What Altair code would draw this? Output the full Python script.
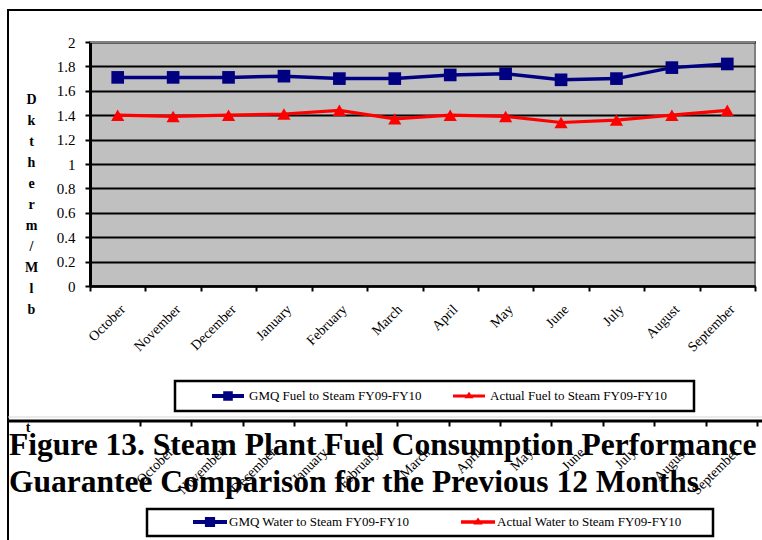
import altair as alt
import pandas as pd

# ---- data -------------------------------------------------------------
months = ["October", "November", "December", "January", "February", "March",
          "April", "May", "June", "July", "August", "September"]
gmq_fuel = [1.71, 1.71, 1.71, 1.72, 1.70, 1.70, 1.73, 1.74, 1.69, 1.70, 1.79, 1.82]
actual_fuel = [1.40, 1.39, 1.40, 1.41, 1.44, 1.37, 1.40, 1.39, 1.34, 1.36, 1.40, 1.44]

fuel_series = ["GMQ Fuel to Steam FY09-FY10", "Actual Fuel to Steam FY09-FY10"]
water_series = ["GMQ Water  to Steam  FY09-FY10", "Actual Water  to Steam FY09-FY10"]
series_colors = ["#000080", "#FF0000"]

y_ticks = [0, 0.2, 0.4, 0.6, 0.8, 1, 1.2, 1.4, 1.6, 1.8, 2]
y_title_letters = ["D", "k", "t", "h", "e", "r", "m", "/", "M", "l", "b"]
caption_lines = ["Figure 13. Steam Plant Fuel Consumption Performance",
                 "Guarantee Comparison for the Previous 12 Months"]

SERIF = "Liberation Serif"

# ---- layout (page pixels; plot area origin at X0, Y0) -----------------
X0, Y0 = 90, 42
W, H = 665, 244


def px(x):
    return x - X0


def py(y):
    return y - Y0


df = pd.DataFrame({
    "month": months * 2,
    "series": [fuel_series[0]] * len(months) + [fuel_series[1]] * len(months),
    "value": gmq_fuel + actual_fuel,
})

one = pd.DataFrame({"k": [0]})

color_fuel = alt.Scale(domain=fuel_series, range=series_colors)

x_main = alt.X(
    "month:N", sort=months, bandPosition=0.5,
    scale=alt.Scale(type="band", paddingInner=0, paddingOuter=0),
    axis=alt.Axis(title=None, grid=False, tickBand="extent",
                  labelAngle=-45, labelAlign="right", labelBaseline="top",
                  labelFont=SERIF, labelFontSize=14, labelColor="black",
                  labelPadding=11, labelOverlap=False, labelBound=False,
                  domainColor="black", domainWidth=2.5,
                  tickColor="black", tickWidth=2, tickSize=5),
)
y_main = alt.Y(
    "value:Q",
    scale=alt.Scale(domain=[0, 2], nice=False, zero=True),
    axis=alt.Axis(values=y_ticks, format="~g",
                  title=y_title_letters, titleAngle=0, titleFont=SERIF,
                  titleFontSize=14, titleFontWeight="bold", titleColor="black",
                  titleLineHeight=21, titleX=px(31), titleY=py(103),
                  titleAlign="center", titleBaseline="alphabetic",
                  labelFont=SERIF, labelFontSize=15, labelColor="black",
                  labelPadding=10,
                  domainColor="black", domainWidth=3,
                  tickColor="black", tickWidth=2, tickSize=5,
                  grid=True, gridColor="black", gridWidth=2, gridOpacity=1),
)

lines = alt.Chart(df).mark_line().encode(
    x=x_main, y=y_main,
    color=alt.Color("series:N", scale=color_fuel, legend=None),
    strokeWidth=alt.StrokeWidth("series:N",
                                scale=alt.Scale(domain=fuel_series, range=[3.5, 3.2]),
                                legend=None),
)
points = alt.Chart(df).mark_point(filled=True, opacity=1).encode(
    x=x_main, y=y_main,
    color=alt.Color("series:N", scale=color_fuel, legend=None),
    shape=alt.Shape("series:N",
                    scale=alt.Scale(domain=fuel_series, range=["square", "triangle-up"]),
                    legend=None),
    size=alt.Size("series:N",
                  scale=alt.Scale(domain=fuel_series, range=[160, 175]),
                  legend=None),
)
plot = alt.layer(lines, points)

# top border of the plot area in grey
top_edge = alt.Chart(one).mark_rule(color="#808080", strokeWidth=2).encode(
    x=alt.value(0), x2=alt.value(W), y=alt.value(0))

# ---- chart frame ---------------------------------------------------------
frame = alt.Chart(one).mark_rect(fill="transparent", stroke="black", strokeWidth=2).encode(
    x=alt.value(px(8)), x2=alt.value(px(790)), y=alt.value(py(10)), y2=alt.value(py(421)))
frame_bottom = alt.Chart(one).mark_rule(color="black", strokeWidth=3).encode(
    x=alt.value(px(8)), x2=alt.value(px(790)), y=alt.value(py(421)))
grey_line = alt.Chart(one).mark_rule(color="#d4d4d4", strokeWidth=1).encode(
    x=alt.value(px(8)), x2=alt.value(px(790)), y=alt.value(py(417)))
left_below = alt.Chart(one).mark_rule(color="black", strokeWidth=2).encode(
    x=alt.value(px(8)), y=alt.value(py(421)), y2=alt.value(py(545)))

# ---- legends ---------------------------------------------------------------
SQ_KEY = "M-1,-0.12H1V0.12H-1Z M-0.3,-0.3H0.3V0.3H-0.3Z"
TRI_KEY = "M-1,-0.1H1V0.1H-1Z M-0.28,0.14L0,-0.26L0.28,0.14Z"


def legend_layer(names, lx, ly, size, offset, colpad):
    leg = alt.Legend(title=None, orient="none", legendX=lx, legendY=ly,
                     direction="horizontal", columns=2, padding=0,
                     symbolSize=size, symbolStrokeWidth=0, symbolOpacity=1,
                     labelFont=SERIF, labelFontSize=13, labelColor="black",
                     labelOffset=offset, columnPadding=colpad, labelLimit=0)
    return alt.Chart(pd.DataFrame({"series": names})).mark_point(
        filled=True, opacity=0).encode(
        x=alt.value(0), y=alt.value(0),
        color=alt.Color("series:N", scale=alt.Scale(domain=names, range=series_colors),
                        legend=leg),
        shape=alt.Shape("series:N", scale=alt.Scale(domain=names, range=[SQ_KEY, TRI_KEY]),
                        legend=leg),
    )


def box(x1, x2, y1, y2):
    return alt.Chart(one).mark_rect(fill="transparent", stroke="black", strokeWidth=2.5).encode(
        x=alt.value(px(x1)), x2=alt.value(px(x2)), y=alt.value(py(y1)), y2=alt.value(py(y2)))


legend_fuel = legend_layer(fuel_series, px(212), py(380), 1024, 5, 31)
legend_water = legend_layer(water_series, px(193), py(505), 1156, 2, 45)
box_fuel = box(175, 694, 381, 411)
box_water = box(147, 713, 509, 536)

# ---- lower chart axis showing beneath the frame -----------------------------
lower_axis = alt.Chart(pd.DataFrame({"month": months})).mark_point(opacity=0).encode(
    x=alt.X("month:N", sort=months,
            scale=alt.Scale(type="band", range=[px(140), px(757)],
                            paddingInner=0, paddingOuter=0),
            axis=alt.Axis(orient="bottom", offset=421 - (Y0 + H), title=None,
                          domain=False, grid=False, tickBand="extent",
                          tickColor="black", tickWidth=2, tickSize=5,
                          labelAngle=-45, labelAlign="right", labelBaseline="top",
                          labelFont=SERIF, labelFontSize=14, labelColor="black",
                          labelPadding=19, labelOverlap=False, labelBound=False)),
    y=alt.value(0),
)
lower_title = alt.Chart(one).mark_text(
    text="t", font=SERIF, fontSize=14, fontWeight="bold", color="black",
    align="center", baseline="alphabetic").encode(
    x=alt.value(px(28)), y=alt.value(py(432)))

# ---- caption -----------------------------------------------------------------
caption = alt.Chart(one).mark_text(
    text=caption_lines, font=SERIF, fontSize=31.5, fontWeight="bold", color="black",
    align="left", baseline="alphabetic", lineHeight=37).encode(
    x=alt.value(px(9)), y=alt.value(py(455)))

chart = alt.layer(
    frame, grey_line, frame_bottom, left_below,
    plot, top_edge,
    box_fuel, legend_fuel,
    lower_axis, lower_title, caption,
    box_water, legend_water,
).resolve_scale(
    x="independent", color="independent", shape="independent",
    size="independent", strokeWidth="independent",
).resolve_axis(x="independent").properties(
    width=W, height=H,
    padding={"left": X0, "top": Y0, "right": 762 - X0 - W, "bottom": 540 - Y0 - H},
    autosize=alt.AutoSizeParams(type="none"),
    background="white",
).configure_view(
    fill="#C0C0C0", stroke="#808080", strokeWidth=2,
)

chart.save("out.html", embed_options={"renderer": "svg", "actions": False})
